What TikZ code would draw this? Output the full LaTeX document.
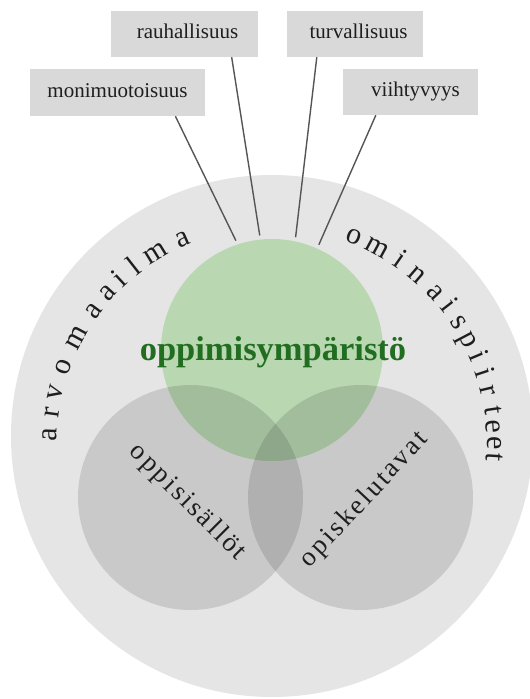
\documentclass[tikz,border=0pt]{standalone}
\usepackage{fontspec}
\setmainfont{Liberation Serif}
\usetikzlibrary{calc}
\definecolor{bigc}{RGB}{229,229,229}
\definecolor{boxc}{RGB}{217,217,217}
\definecolor{greenc}{RGB}{185,216,178}
\definecolor{titlec}{RGB}{33,110,33}
\definecolor{linec}{RGB}{85,85,85}
\definecolor{txtc}{RGB}{30,30,30}
\newcommand\lsamt{2.6pt}
\makeatletter
\def\spaceout#1#2\@nil{#1\spaceout@#2\@nil}
\def\spaceout@#1{\ifx#1\@nil\else\kern\lsamt\relax#1\expandafter\spaceout@\fi}
\newcommand\spaced[1]{\spaceout#1\@nil}
\makeatother
\begin{document}
\begin{tikzpicture}[x=1pt,y=1pt,
  box/.style={fill=boxc, inner sep=0pt, minimum height=46pt, text height=9.5pt, text depth=0pt, font=\fontsize{21}{25}\selectfont, text=txtc},
  conn/.style={draw=linec, line width=1.4pt, shorten >=4pt},
  arcletter/.style={anchor=base, inner sep=0pt, font=\fontsize{30}{34}\selectfont, text=txtc},
  lab/.style={inner sep=0pt, font=\fontsize{27}{31}\selectfont, text=txtc},
  disc/.style={circle, inner sep=0pt, draw=none}]
\path[use as bounding box] (0,0) rectangle (530,-699);
\clip (0,0) rectangle (530,-699);
\fill[white] (0,0) rectangle (530,-699);
\node[disc, fill=bigc, minimum size=522pt] (outer) at (272,-436) {};
% boxes
\node[box, minimum width=147pt] (rauh) at (184.5,-34) {\kern6pt rauhallisuus};
\node[box, minimum width=136pt] (turv) at (355,-34) {\kern7pt turvallisuus};
\node[box, minimum width=175pt, minimum height=47pt] (moni) at (117.5,-92.5) {monimuotoisuus};
\node[box, minimum width=135pt] (viih) at (410.5,-92) {\kern10pt viihtyvyys};
% green circle
\node[disc, fill=greenc, minimum size=222pt] (green) at (272,-350) {};
% connectors
\draw[conn] ($(moni.south west)!0.83!(moni.south east)$) -- (green.108.9);
\draw[conn] ($(rauh.south west)!0.82!(rauh.south east)$) -- (green.96.9);
\draw[conn] ($(turv.south west)!0.22!(turv.south east)$) -- (green.78.1);
\draw[conn] ($(viih.south west)!0.244!(viih.south east)$) -- (green.66.7);
% gray circles
\node[disc, fill=black, fill opacity=0.12, minimum size=225pt] (lc) at (190.5,-497.5) {};
\node[disc, fill=black, fill opacity=0.12, minimum size=225pt] (rc) at (360.5,-497.5) {};
% title
\node[anchor=base, inner sep=0pt, font=\bfseries\fontsize{34.5}{40}\selectfont, text=titlec] (title) at (273,-360) {oppimisympäristö};
% rotated labels
\node[lab, rotate=-45] (sis) at (187.5,-502.5) {\spaced{oppisisällöt}};
\node[lab, rotate=47] (tav) at (364.5,-500) {\spaced{opiskelutavat}};
% curved texts
\coordinate (tc) at (272,-443);
\foreach \ch/\ang [count=\i] in {a/177.95,r/172.2,v/167.0,o/160.1,m/151.8,a/143.4,a/137.6,i/132.8,l/128.0,m/121.5,a/113.6}
  \node[arcletter, rotate=\ang-90] (arv\i) at ($(tc)+(\ang:215)$) {\ch};
\foreach \ch/\ang [count=\i] in {o/68.2,m/61.6,i/55.0,n/49.2,a/42.8,i/37.8,s/33.0,p/27.7,i/22.8,i/18.35,r/13.7,t/8.4,e/4.1,e/0,t/-3.7}
  \node[arcletter, rotate=\ang-90] (omi\i) at ($(tc)+(\ang:215)$) {\ch};
\end{tikzpicture}
\end{document}
